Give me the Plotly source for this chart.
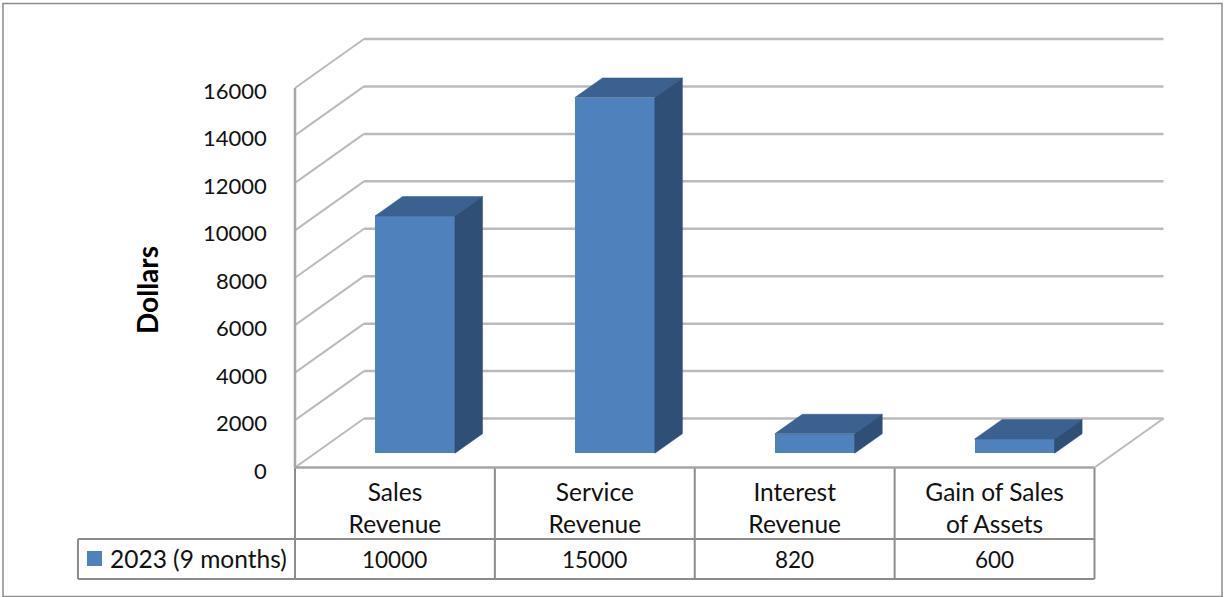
import plotly.graph_objects as go

categories = ["Sales<br>Revenue", "Service<br>Revenue", "Interest<br>Revenue", "Gain of Sales<br>of Assets"]
series_name = "2023 (9 months)"
revenue = [10000, 15000, 820, 600]
axis_ticks = [0, 2000, 4000, 6000, 8000, 10000, 12000, 14000, 16000]

W, H = 1224, 597
FONT = "Lato"
TEXT = "#111111"
FRONT, TOP, SIDE = "#4F81BD", "#3A6190", "#2F4F77"
GRID = "#BBBBBB"
AXIS = "#A6A6A6"
TABLE = "#8C8C8C"

# Pixel frame of the front plane: category 0..4 and value 0..16000
X0_PX, X4_PX = 295.0, 1094.5
Y0_PX, Y16K_PX = 467.5, 88.0
PX_PER_CAT = (X4_PX - X0_PX) / 4
PX_PER_VAL = (Y0_PX - Y16K_PX) / 16000

# Oblique depth of the chart floor, expressed in axis units
DEPTH_X = 69 / PX_PER_CAT
DEPTH_Y = 49 / PX_PER_VAL
BAR_WIDTH = 0.4
BAR_FRONT, BAR_BACK = 0.29, 0.69


def px(x):
    return x / W


def py(y):
    return 1 - y / H


def shape_line(x0, y0, x1, y1, color, width, ref="x", layer="below"):
    return dict(type="line", xref=ref, yref="y" if ref == "x" else ref,
                x0=x0, y0=y0, x1=x1, y1=y1, layer=layer,
                line=dict(color=color, width=width))


fig = go.Figure()

# Front face of each column, standing on the floor at its depth offset
front_x = [i + 0.5 + BAR_FRONT * DEPTH_X for i in range(len(revenue))]
front_base = BAR_FRONT * DEPTH_Y
fig.add_bar(x=front_x, y=revenue, base=front_base, width=BAR_WIDTH,
            marker=dict(color=FRONT, line=dict(width=0)),
            name=series_name, showlegend=False)

# Top and side faces projected from the same values
span = BAR_BACK - BAR_FRONT
for fx, v in zip(front_x, revenue):
    left, right = fx - BAR_WIDTH / 2, fx + BAR_WIDTH / 2
    bottom, top = front_base, front_base + v
    dx, dy = span * DEPTH_X, span * DEPTH_Y
    fig.add_scatter(x=[left, right, right + dx, left + dx, left],
                    y=[top, top, top + dy, top + dy, top],
                    mode="lines", fill="toself", fillcolor=TOP,
                    line=dict(color=TOP, width=0.5), hoverinfo="skip", showlegend=False)
    fig.add_scatter(x=[right, right + dx, right + dx, right, right],
                    y=[bottom, bottom + dy, top + dy, top, bottom],
                    mode="lines", fill="toself", fillcolor=SIDE,
                    line=dict(color=SIDE, width=0.5), hoverinfo="skip", showlegend=False)

shapes = []
n = len(categories)

# Gridlines run along the side wall and then across the back wall
for t in axis_ticks:
    shapes.append(shape_line(0, t, DEPTH_X, t + DEPTH_Y, GRID, 2))
    shapes.append(shape_line(DEPTH_X, t + DEPTH_Y, n + DEPTH_X, t + DEPTH_Y, GRID, 2.5))

# Front edges of the frame
shapes.append(shape_line(0, 0, 0, axis_ticks[-1], AXIS, 2.5))
shapes.append(shape_line(0, 0, n, 0, AXIS, 2.5))
shapes.append(shape_line(n, 0, n + DEPTH_X, DEPTH_Y, GRID, 2))

# Data table under the axis
table_mid, table_bottom = 539.0, 579.0
for i in range(n + 1):
    shapes.append(dict(type="line", xref="x", yref="paper", x0=i, x1=i,
                       y0=py(Y0_PX), y1=py(table_bottom), layer="below",
                       line=dict(color=TABLE, width=2)))
for x0, x1, yy in [(78, X4_PX, table_mid), (78, X4_PX, table_bottom)]:
    shapes.append(shape_line(px(x0), py(yy), px(x1), py(yy), TABLE, 2, ref="paper"))
shapes.append(shape_line(px(78), py(table_mid), px(78), py(table_bottom), TABLE, 2, ref="paper"))

# Swatch for the series in the table row
shapes.append(dict(type="rect", xref="paper", yref="paper", x0=px(87), x1=px(102),
                   y0=py(566), y1=py(551), fillcolor=FRONT, line=dict(width=0), layer="above"))

# Outer chart border
shapes.append(dict(type="rect", xref="paper", yref="paper", x0=px(3), x1=px(1222),
                   y0=py(596.5), y1=py(3.5), fillcolor="rgba(0,0,0,0)",
                   line=dict(color="#8C8C8C", width=1.5), layer="below"))

# Value labels on the axis, sitting slightly under their gridlines
annotations = [
    dict(text=str(t), x=0, y=t, xref="x", yref="y", xanchor="right", yanchor="middle",
         xshift=-26, yshift=-2.5, showarrow=False,
         font=dict(family=FONT, size=22, color=TEXT))
    for t in axis_ticks
]
annotations += [
    dict(text=str(v), x=i + 0.5, y=py(559), xref="x", yref="paper", yanchor="middle",
         showarrow=False, font=dict(family=FONT, size=22.5, color=TEXT))
    for i, v in enumerate(revenue)
]
annotations.append(dict(text=series_name, x=px(108), y=py(558), xref="paper", yref="paper",
                        xanchor="left", yanchor="middle", showarrow=False,
                        font=dict(family=FONT, size=24.5, color=TEXT)))
annotations.append(dict(text="<b>Dollars</b>", x=px(147), y=py(290), xref="paper", yref="paper",
                        textangle=-90, xanchor="center", yanchor="middle", showarrow=False,
                        font=dict(family=FONT, size=28, color="#000000")))

fig.update_layout(
    width=W, height=H,
    margin=dict(l=0, r=0, t=0, b=0),
    paper_bgcolor="white", plot_bgcolor="white",
    shapes=shapes, annotations=annotations, showlegend=False, bargap=0,
    xaxis=dict(
        range=[-X0_PX / PX_PER_CAT, (W - X0_PX) / PX_PER_CAT],
        tickmode="array", tickvals=[i + 0.5 for i in range(n)], ticktext=categories,
        anchor="free", position=py(Y0_PX), showgrid=False, zeroline=False, showline=False,
        ticks="", ticklabelstandoff=8, tickangle=0,
        tickfont=dict(family=FONT, size=24.5, color=TEXT), fixedrange=True,
    ),
    yaxis=dict(
        range=[-(H - Y0_PX) / PX_PER_VAL, Y0_PX / PX_PER_VAL],
        showticklabels=False, anchor="free", position=px(X0_PX),
        showgrid=False, zeroline=False, showline=False, ticks="", fixedrange=True,
    ),
)

fig.write_html("out.html", config=dict(displayModeBar=False))
